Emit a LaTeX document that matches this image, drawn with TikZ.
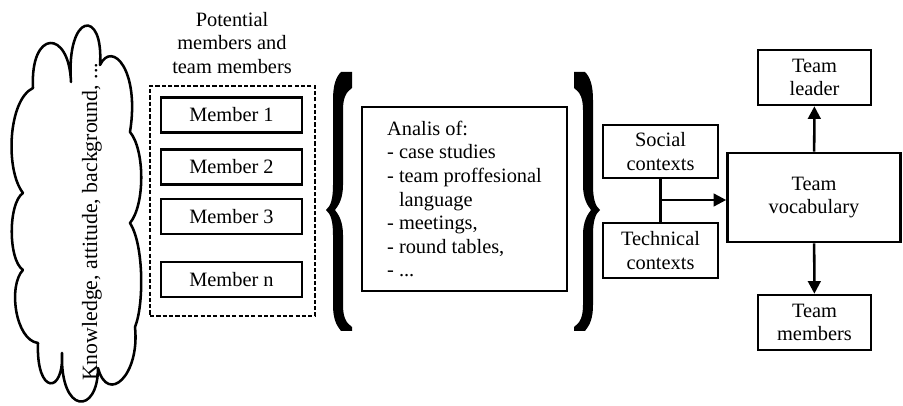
\documentclass[tikz,border=0pt]{standalone}
\usepackage{fontspec}
\setmainfont{Liberation Serif}
\usetikzlibrary{arrows.meta}

\tikzset{
    box/.style={draw, line width=1.8pt, inner sep=2pt, align=center},
    arrow/.style={line width=1.8pt, -{Triangle[length=9pt,width=9pt]}}
}

\begin{document}
\begin{tikzpicture}[x=0.025cm, y=-0.025cm, font=\fontsize{14.5}{16.8}\selectfont]
        \useasboundingbox (0,0) rectangle (903,406);
        % cloud on the left
        \draw [line width=1.8pt, line join=round] (71,82)
            .. controls (66,12) and (104,8) .. (100,65)
            .. controls (112,40) and (140,70) .. (130,132)
            .. controls (145,150) and (145,205) .. (130,223)
            .. controls (144,245) and (144,305) .. (135,327)
            .. controls (140,375) and (108,405) .. (98,368)
            .. controls (98,415) and (60,415) .. (62,353)
            .. controls (64,395) and (36,395) .. (38,343)
            .. controls (15,340) and (8,285) .. (23,270)
            .. controls (8,260) and (8,203) .. (23,193)
            .. controls (5,170) and (8,100) .. (33,88)
            .. controls (30,29) and (69,29) .. (71,82) -- cycle;
        \node [rotate=90, font=\fontsize{15.5}{18}\selectfont] (skills) at (92,222)
            {Knowledge, attitude, background, ...};

        % members
        \node [align=center] (pooltitle) at (232,43) {Potential\\members and\\team members};
        \node [draw, line width=1.8pt, dash pattern=on 3pt off 1.5pt,
            minimum width=4.125cm, minimum height=5.75cm] (pool) at (232.5,201) {};
        \node [box, minimum width=3.525cm, minimum height=0.875cm] (m1) at (231.5,115) {Member 1};
        \node [box, minimum width=3.525cm, minimum height=0.875cm] (m2) at (231.5,167) {Member 2};
        \node [box, minimum width=3.525cm, minimum height=0.875cm] (m3) at (231.5,216.5) {Member 3};
        \node [box, minimum width=3.525cm, minimum height=0.875cm] (mn) at (231.5,279.5) {Member n};

        % braces
        \fill (341,72) -- (352,72) -- (352,88) .. controls (346,92) and (343,98) .. (343,110)
            -- (343,185) .. controls (343,198) and (339,205) .. (335,210)
            .. controls (339,215) and (343,222) .. (343,235) -- (343,305)
            .. controls (343,317) and (346,323) .. (352,327) -- (352,331) -- (341,331)
            .. controls (336,325) and (333,318) .. (333,305) -- (333,235)
            .. controls (333,222) and (331,214) .. (326,210)
            .. controls (331,206) and (333,198) .. (333,185) -- (333,100)
            .. controls (333,85) and (336,77) .. (341,72) -- cycle;
        \begin{scope}[shift={(926,0)}, xscale=-1]
        \fill (341,72) -- (352,72) -- (352,88) .. controls (346,92) and (343,98) .. (343,110)
            -- (343,185) .. controls (343,198) and (339,205) .. (335,210)
            .. controls (339,215) and (343,222) .. (343,235) -- (343,305)
            .. controls (343,317) and (346,323) .. (352,327) -- (352,331) -- (341,331)
            .. controls (336,325) and (333,318) .. (333,305) -- (333,235)
            .. controls (333,222) and (331,214) .. (326,210)
            .. controls (331,206) and (333,198) .. (333,185) -- (333,100)
            .. controls (333,85) and (336,77) .. (341,72) -- cycle;
        \end{scope}

        % analysis
        \node [box, align=left, minimum width=5.125cm, minimum height=4.6cm] (analis) at (464.5,199)
            {Analis of:\\- case studies\\- team proffesional\\\phantom{- }language\\- meetings,\\- round tables,\\- ...};

        % contexts and vocabulary
        \node [box, minimum width=2.875cm, minimum height=1.325cm] (social) at (660.5,151.5) {Social\\contexts};
        \node [box, minimum width=2.875cm, minimum height=1.375cm] (technical) at (660.5,250.5) {Technical\\contexts};
        \node [box, minimum width=4.325cm, minimum height=2.225cm] (vocab) at (814,197.5) {Team\\vocabulary};
        \node [box, minimum width=2.825cm, minimum height=1.375cm] (leader) at (814.5,77.5) {Team\\leader};
        \node [box, minimum width=2.825cm, minimum height=1.375cm] (teammembers) at (814.5,322.5) {Team\\members};
        \coordinate (join) at (660.5,200);

        \draw [line width=1.8pt] (social) -- (technical);
        \draw [arrow] (join) -- (join -| vocab.west);
        \draw [arrow] (vocab) -- (leader);
        \draw [arrow] (vocab) -- (teammembers);
    \end{tikzpicture}
\end{document}
